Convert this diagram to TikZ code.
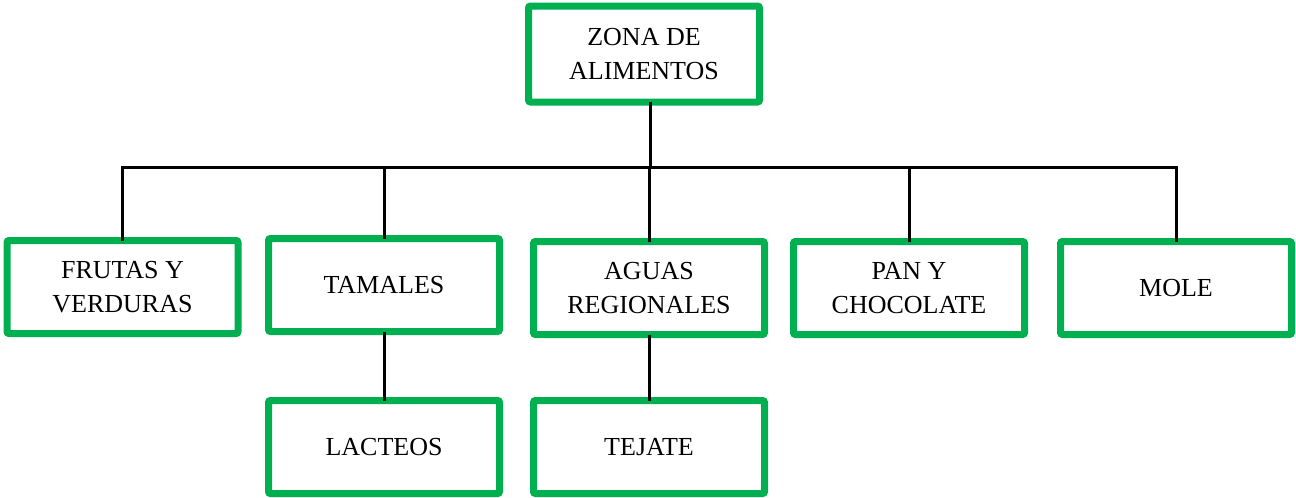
\documentclass[tikz,border=0pt]{standalone}
\usepackage{fontspec}
\setmainfont{Liberation Serif}
\definecolor{boxgreen}{HTML}{00B050}

\begin{document}
\begin{tikzpicture}[x=1pt, y=-1pt,
		item/.style={draw=boxgreen, line width=7pt, rounded corners=2pt, fill=white,
			minimum width=231pt, minimum height=93pt, inner sep=0pt, outer sep=0pt,
			align=center, font=\fontsize{26}{34}\selectfont},
		conn/.style={black, line width=3pt}]
	\useasboundingbox (0,0) rectangle (1296,498);
	% top box
	\node[item, minimum height=96pt] (zona) at (644, 54) {ZONA DE\\ALIMENTOS};
	% second level
	\node[item] (frutas) at (122.5, 287) {FRUTAS Y\\VERDURAS};
	\node[item] (tamales) at (384, 285) {TAMALES};
	\node[item] (aguas) at (649, 288) {AGUAS\\REGIONALES};
	\node[item] (pan) at (909, 288) {PAN Y\\CHOCOLATE};
	\node[item] (mole) at (1176, 288) {MOLE};
	% third level
	\node[item] (lacteos) at (384, 447) {LACTEOS};
	\node[item] (tejate) at (649, 447) {TEJATE};
	% bar
	\coordinate (bar) at (650, 167);
	\draw[conn] (zona.south -| bar) -- (bar);
	\draw[conn] (frutas.north) |- (bar) -| (mole.north);
	\draw[conn] (tamales.north) -- (tamales.north |- bar);
	\draw[conn] (aguas.north) -- (aguas.north |- bar);
	\draw[conn] (pan.north) -- (pan.north |- bar);
	\draw[conn] (tamales.south) -- (lacteos.north);
	\draw[conn] (aguas.south) -- (tejate.north);
\end{tikzpicture}
\end{document}
